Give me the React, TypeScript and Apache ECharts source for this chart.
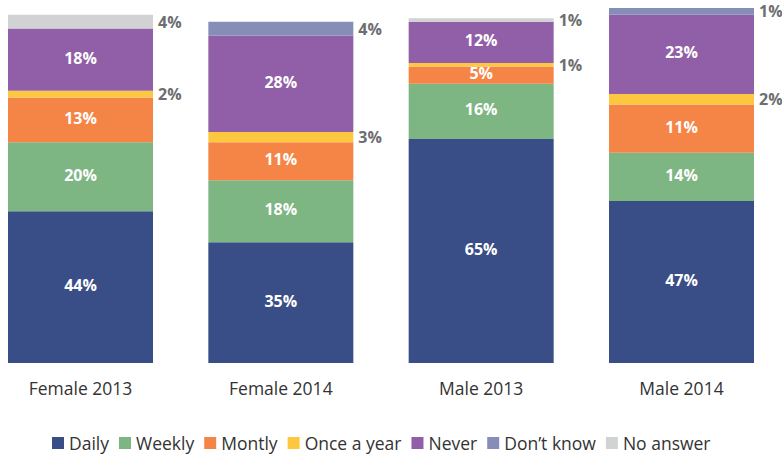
import React, { useEffect, useRef } from "react";
import * as echarts from "echarts";

const categories = ["Female 2013", "Female 2014", "Male 2013", "Male 2014"];
const seriesNames = ["Daily", "Weekly", "Montly", "Once a year", "Never", "Don\u2019t know", "No answer"];

// drawn heights (percent)
const daily = [44, 35, 65, 47];
const weekly = [20, 18, 16, 14];
const montly = [13, 11, 5, 14];
const onceAYear = [2, 3, 1, 3];
const never = [18, 28, 12, 23];
const dontKnow = [0, 4, 0, 2];
const noAnswer = [4, 0, 1, 0];

// percentages as printed on the chart
const dailyPrinted = [44, 35, 65, 47];
const weeklyPrinted = [20, 18, 16, 14];
const montlyPrinted = [13, 11, 5, 11];
const onceAYearPrinted = [2, 3, 1, 2];
const neverPrinted = [18, 28, 12, 23];
const dontKnowPrinted = [0, 4, 0, 1];
const noAnswerPrinted = [4, 0, 1, 0];

const colors = ["#394e86", "#7db583", "#f58546", "#fec740", "#915fa7", "#868eb8", "#d1d2d4"];

export default function App() {
  const ref = useRef<HTMLDivElement>(null);
  useEffect(() => {
    if (!ref.current) return;
    const chart = echarts.init(ref.current, null, { renderer: "svg" });
    const values = [daily, weekly, montly, onceAYear, never, dontKnow, noAnswer];
    const printed = [dailyPrinted, weeklyPrinted, montlyPrinted, onceAYearPrinted, neverPrinted, dontKnowPrinted, noAnswerPrinted];
    const outside = [false, false, false, true, false, true, true];
    const font = "'Open Sans', sans-serif";
    chart.setOption({
      animation: false,
      color: colors,
      grid: { left: 80.5, right: 100.5, top: 1, bottom: 92, containLabel: false },
      legend: {
        left: 47,
        top: 429,
        itemWidth: 12,
        itemHeight: 12,
        itemGap: 10,
        icon: "rect",
        textStyle: { fontFamily: font, fontSize: 17.5, color: "#333333" },
        data: seriesNames,
      },
      xAxis: {
        type: "category",
        data: categories,
        boundaryGap: false,
        axisLine: { show: false },
        axisTick: { show: false },
        splitLine: { show: false },
        axisLabel: { margin: 16, fontFamily: font, fontSize: 17.5, color: "#333333" },
      },
      yAxis: { type: "value", min: 0, max: 105, show: false, splitLine: { show: false } },
      series: seriesNames.map((name, si) => ({
        name,
        type: "bar",
        stack: "total",
        barWidth: 145,
        data: values[si],
        label: {
          show: true,
          position: outside[si] ? "right" : "inside",
          distance: 5,
          offset: outside[si] ? [0, 0] : [0, -2],
          fontFamily: font,
          fontWeight: "bold",
          fontSize: 16,
          color: outside[si] ? "#6d6e71" : "#ffffff",
          formatter: (p: any) => {
            const v = printed[si][p.dataIndex];
            return v > 0 ? v + "%" : "";
          },
        },
      })),
    });
    return () => chart.dispose();
  }, []);
  return <div ref={ref} style={{ position: "absolute", left: 0, top: 0, width: 782, height: 455 }} />;
}
